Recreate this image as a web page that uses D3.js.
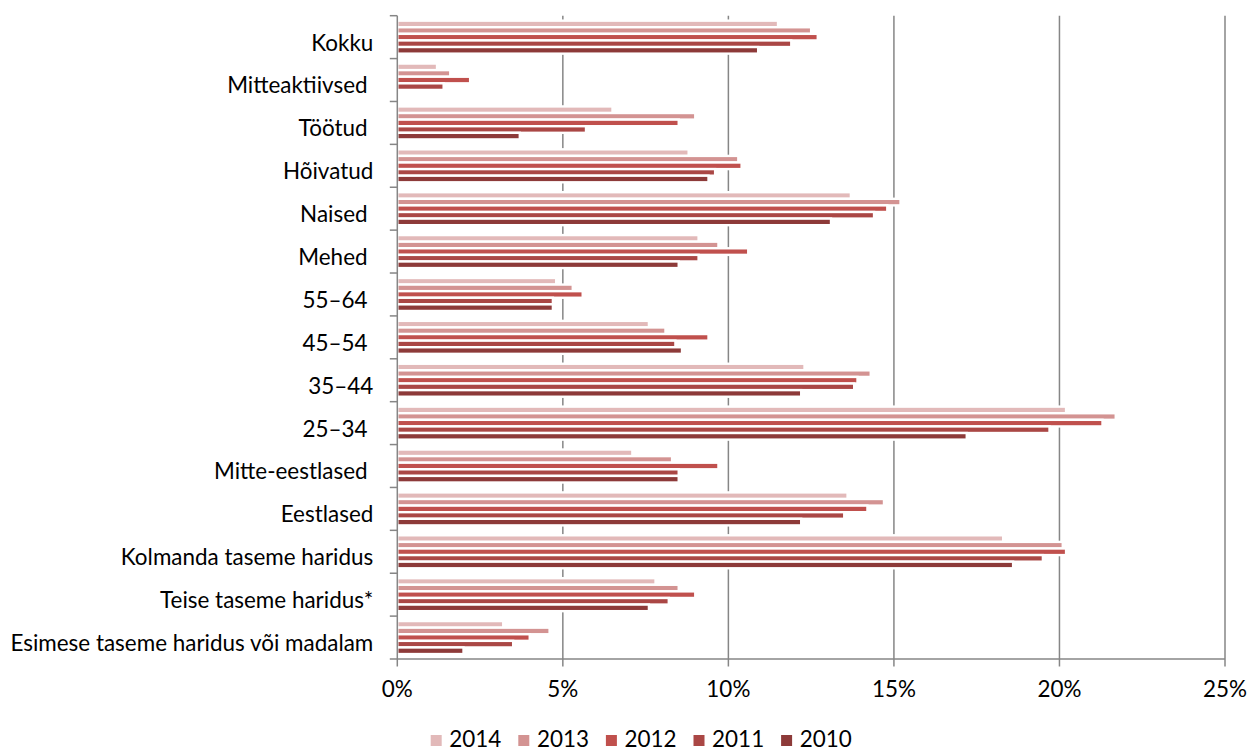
<!DOCTYPE html>
<html>
<head>
<meta charset="utf-8">
<script src="https://cdn.jsdelivr.net/npm/d3@7"></script>
<style>
  html, body { margin: 0; padding: 0; background: #fff; }
  svg { display: block; }
  text { font-family: Lato, "Open Sans", sans-serif; fill: #000; white-space: pre; }
</style>
</head>
<body>
<svg id="chart" width="1249" height="751"></svg>
<script>
// Osakaal (%) rühmade kaupa, aastad 2010–2014
const categories = [
  "Kokku", "Mitteaktiivsed ", "Töötud ", "Hõivatud", "Naised ", "Mehed ",
  "55–64 ", "45–54 ", "35–44", "25–34 ", "Mitte-eestlased ", "Eestlased",
  "Kolmanda taseme haridus", "Teise taseme haridus*", "Esimese taseme haridus või madalam"
];
const years = ["2014", "2013", "2012", "2011", "2010"];
const values2014 = [11.5, 1.2, 6.5, 8.8, 13.7, 9.1, 4.8, 7.6, 12.3, 20.2, 7.1, 13.6, 18.3, 7.8, 3.2];
const values2013 = [12.5, 1.6, 9.0, 10.3, 15.2, 9.7, 5.3, 8.1, 14.3, 21.7, 8.3, 14.7, 20.1, 8.5, 4.6];
const values2012 = [12.7, 2.2, 8.5, 10.4, 14.8, 10.6, 5.6, 9.4, 13.9, 21.3, 9.7, 14.2, 20.2, 9.0, 4.0];
const values2011 = [11.9, 1.4, 5.7, 9.6, 14.4, 9.1, 4.7, 8.4, 13.8, 19.7, 8.5, 13.5, 19.5, 8.2, 3.5];
const values2010 = [10.9, null, 3.7, 9.4, 13.1, 8.5, 4.7, 8.6, 12.2, 17.2, 8.5, 12.2, 18.6, 7.6, 2.0];
const tickValues = [0, 5, 10, 15, 20, 25];
const tickLabels = ["0%", "5%", "10%", "15%", "20%", "25%"];

const seriesByYear = {
  "2014": values2014, "2013": values2013, "2012": values2012,
  "2011": values2011, "2010": values2010
};
const colors = {
  "2014": "#e2b9b9", "2013": "#d39392", "2012": "#c0504d",
  "2011": "#aa4745", "2010": "#8d3a39"
};

const svg = d3.select("#chart");
const plot = { left: 397.3, right: 1225, top: 15.7, bottom: 659 };
const gridColor = "#868686";

const x = d3.scaleLinear().domain([0, 25]).range([plot.left, plot.right]);
const y = d3.scaleBand().domain(categories).range([plot.top, plot.bottom]).padding(0);
const yInner = d3.scaleBand().domain(years).range([0, y.bandwidth()])
  .paddingInner(0).paddingOuter(0.75);

// Vertical gridlines
svg.append("g").selectAll("line")
  .data(tickValues.filter(d => d > 0))
  .join("line")
  .attr("x1", d => x(d)).attr("x2", d => x(d))
  .attr("y1", plot.top).attr("y2", plot.bottom)
  .attr("stroke", gridColor).attr("stroke-width", 1.5);

// Bars, one group per category
const groups = svg.append("g").selectAll("g")
  .data(categories.map((c, i) => ({ c, i })))
  .join("g")
  .attr("transform", d => `translate(0,${y(d.c)})`);

groups.selectAll("rect")
  .data(d => years.map(yr => ({ yr, v: seriesByYear[yr][d.i] })).filter(e => e.v != null))
  .join("rect")
  .attr("x", x(0))
  .attr("y", e => yInner(e.yr))
  .attr("width", e => x(e.v) - x(0))
  .attr("height", yInner.bandwidth())
  .attr("fill", e => colors[e.yr])
  .attr("stroke", "#fff")
  .attr("stroke-width", 2.4);

// Category axis (left)
const yAxis = svg.append("g").attr("transform", `translate(${plot.left},0)`);
yAxis.append("line")
  .attr("x1", 0).attr("x2", 0).attr("y1", plot.top).attr("y2", plot.bottom)
  .attr("stroke", gridColor).attr("stroke-width", 1.5);
const bandEdges = categories.map(c => y(c)).concat([plot.bottom]);
yAxis.selectAll("line.tick")
  .data(bandEdges)
  .join("line").attr("class", "tick")
  .attr("x1", -7.5).attr("x2", 0)
  .attr("y1", d => d).attr("y2", d => d)
  .attr("stroke", gridColor).attr("stroke-width", 1.5);

const labels = svg.append("g").selectAll("text")
  .data(categories)
  .join("text")
  .attr("x", 373.3)
  .attr("y", d => y(d) + y.bandwidth() / 2 + 13.4)
  .attr("text-anchor", "end")
  .text(d => d);

// Size the label font so the longest label spans the available width
let fontSize = 20;
labels.style("font-size", fontSize + "px");
const longest = labels.filter(d => d.startsWith("Esimese")).node();
const w = longest.getComputedTextLength();
fontSize = fontSize * 363 / w;
labels.style("font-size", fontSize + "px");

// Value axis (bottom)
const xAxis = svg.append("g");
xAxis.append("line")
  .attr("x1", plot.left).attr("x2", plot.right)
  .attr("y1", plot.bottom).attr("y2", plot.bottom)
  .attr("stroke", gridColor).attr("stroke-width", 1.5);
xAxis.selectAll("line.tick")
  .data(tickValues)
  .join("line").attr("class", "tick")
  .attr("x1", d => x(d)).attr("x2", d => x(d))
  .attr("y1", plot.bottom).attr("y2", plot.bottom + 7.5)
  .attr("stroke", gridColor).attr("stroke-width", 1.5);
xAxis.selectAll("text")
  .data(tickValues)
  .join("text")
  .attr("x", d => x(d))
  .attr("y", 697)
  .attr("text-anchor", "middle")
  .style("font-size", fontSize + "px")
  .text((d, i) => tickLabels[i]);

// Legend
const legend = svg.append("g").selectAll("g")
  .data(years)
  .join("g")
  .attr("transform", (d, i) => `translate(${430.7 + i * 87.6},0)`);
legend.append("rect")
  .attr("x", 0).attr("y", 735)
  .attr("width", 11).attr("height", 11)
  .attr("fill", d => colors[d]);
legend.append("text")
  .attr("x", 18.6).attr("y", 746.5)
  .style("font-size", fontSize + "px")
  .text(d => d);
</script>
</body>
</html>
